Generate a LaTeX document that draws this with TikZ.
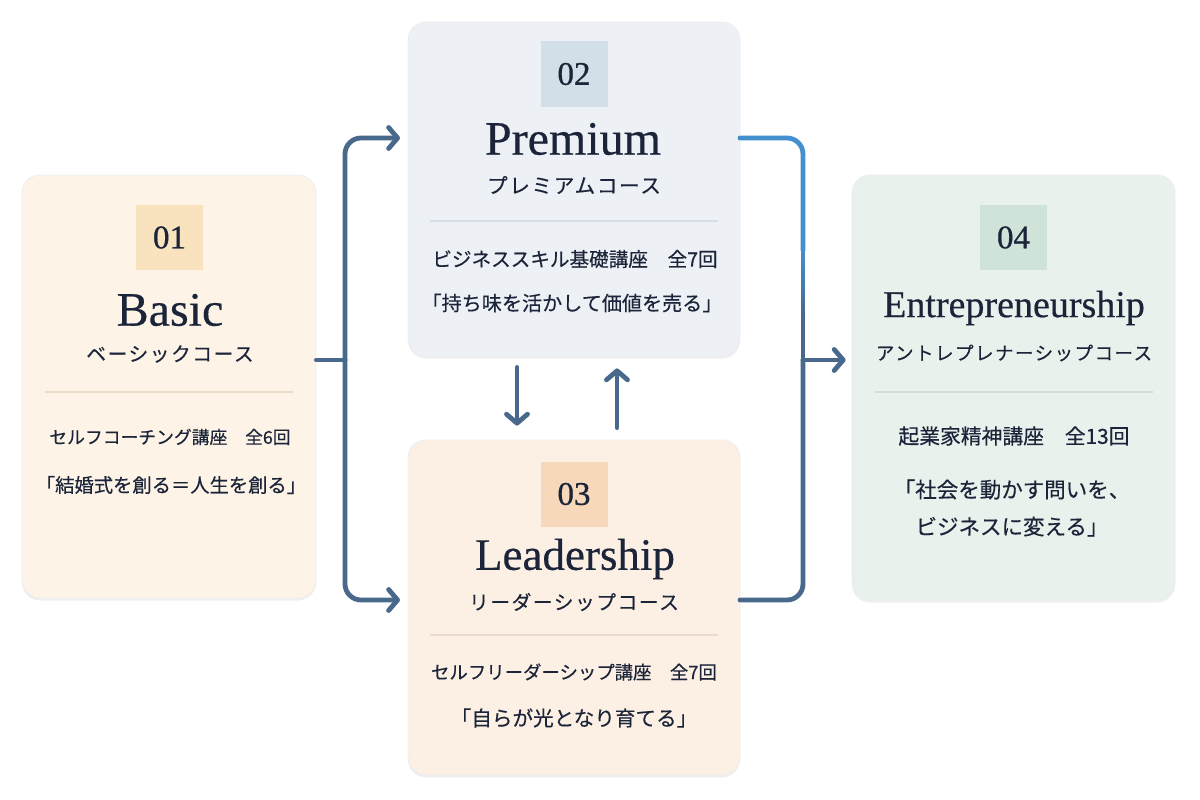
\documentclass[tikz,border=0pt]{standalone}
\usepackage{fontspec}
\setmainfont{Liberation Serif}
\newfontfamily\jp[FakeBold=0.35]{Noto Sans CJK JP}
\newfontfamily\jpsub[LetterSpace=8,FakeBold=0.3]{Noto Sans CJK JP}
\newfontfamily\numfont[FakeBold=0.8]{Liberation Serif}
\newfontfamily\titlefont[FakeBold=0.4]{Liberation Serif}
\usetikzlibrary{arrows.meta,shadows,calc}
\definecolor{ink}{HTML}{1B2438}
\definecolor{navy}{HTML}{48698C}
\definecolor{skyline}{HTML}{4490CF}
\definecolor{basicfill}{HTML}{FDF4E7}
\definecolor{basicbadge}{HTML}{F8E3BE}
\definecolor{basicrule}{HTML}{EBDCC6}
\definecolor{premfill}{HTML}{EDF1F6}
\definecolor{prembadge}{HTML}{D3DFE8}
\definecolor{premrule}{HTML}{D3DEE6}
\definecolor{leadfill}{HTML}{FCF0E5}
\definecolor{leadbadge}{HTML}{F8D8BA}
\definecolor{leadrule}{HTML}{EBDACB}
\definecolor{entfill}{HTML}{E8F1EC}
\definecolor{entbadge}{HTML}{CFE3D9}
\definecolor{entrule}{HTML}{CFE0D8}
\newcommand{\fs}[1]{\fontsize{#1}{#1}\selectfont}
\tikzset{
  card/.style={rounded corners=18pt, draw=black!7, line width=0.8pt,
    drop shadow={opacity=0.12, shadow xshift=0pt, shadow yshift=-2.5pt}},
  badge/.style={inner sep=0pt, minimum width=67pt, minimum height=65pt, text=ink,
    font=\numfont\fs{33}},
  title/.style={text=ink, inner sep=0pt, font=\titlefont\fs{48}},
  sub/.style={text=ink, inner sep=0pt},
  body/.style={text=ink, inner sep=0pt},
  conn/.style={draw=navy, line width=4.8pt, line cap=round, line join=round},
  arr/.style={-{Straight Barb[length=9pt,width=21pt,round]}},
  rulel/.style={line width=1.2pt}
}
\begin{document}
\begin{tikzpicture}[x=1pt,y=-1pt]
\useasboundingbox[fill=white] (0,0) rectangle (1200,800);

% cards
\node[card, fill=basicfill, minimum width=294pt, minimum height=423pt] (basic) at (169,386.5) {};
\node[card, fill=premfill, minimum width=332pt, minimum height=334pt] (prem) at (574,189) {};
\node[card, fill=leadfill, minimum width=332pt, minimum height=335pt] (lead) at (574,607.5) {};
\node[card, fill=entfill, minimum width=323pt, minimum height=425pt] (ent) at (1013.5,387.5) {};

% connectors
\coordinate (jL) at (345,360);
\coordinate (pIn) at (400,138);
\coordinate (lIn) at (400,600);
\coordinate (pOut) at (740,138);
\coordinate (lOut) at (740,600);
\coordinate (jR) at (803,360);

\draw[conn] (basic.east |- jL) -- (jL);
\draw[conn, arr, rounded corners=16pt] (jL) |- (pIn);
\draw[conn, arr, rounded corners=16pt] (jL) |- (lIn);

\draw[conn, rounded corners=16pt] (jR) |- (lOut);
\draw[conn, draw=skyline, rounded corners=16pt] (pOut) -| (803,250);
\foreach \i in {0,...,23}{
  \pgfmathtruncatemacro{\pc}{100-\i*100/23}
  \draw[line width=4.8pt, draw=skyline!\pc!navy] (803,{248+3*\i}) -- (803,{252+3*\i});
}
\draw[conn] (803,318) -- (jR);
\draw[conn, arr, shorten >=6pt] (jR) -- (ent.west |- jR);

\draw[conn, arr] ($(prem.south)+(-57,11)$) -- ($(lead.north)+(-57,-14)$);
\draw[conn, arr] ($(lead.north)+(43,-12)$) -- ($(prem.south)+(43,12)$);

% Basic
\node[badge, fill=basicbadge] (b1) at (169.5,237.5) {01};
\node[title] (b2) at (170,310) {Basic};
\node[sub, font=\jpsub\fs{19.7}] (b3) at (170,354) {ベーシックコース};
\draw[rulel, draw=basicrule] (45,392) -- (293,392);
\node[body, font=\jp\fs{17.8}] (b4) at (170,437) {セルフコーチング講座　全6回};
\node[body, font=\jp\fs{19.3}] (b5) at (171,485) {「結婚式を創る＝人生を創る」};

% Premium
\node[badge, fill=prembadge] (p1) at (574,74) {02};
\node[title] (p2) at (573,139) {Premium};
\node[sub, font=\jpsub\fs{20.6}] (p3) at (574,185) {プレミアムコース};
\draw[rulel, draw=premrule] (430,221) -- (718,221);
\node[body, font=\jp\fs{19.6}] (p4) at (575,259) {ビジネススキル基礎講座　全7回};
\node[body, font=\jp\fs{20.1}] (p5) at (572,303) {「持ち味を活かして価値を売る」};

% Leadership
\node[badge, fill=leadbadge] (l1) at (574,494) {03};
\node[title, font=\titlefont\fs{45}] (l2) at (575,559) {Leadership};
\node[sub, font=\jpsub\fs{19.7}] (l3) at (574,602) {リーダーシップコース};
\draw[rulel, draw=leadrule] (430,635) -- (718,635);
\node[body, font=\jp\fs{18.4}] (l4) at (574,672) {セルフリーダーシップ講座　全7回};
\node[body, font=\jp\fs{20.6}] (l5) at (574,718) {「自らが光となり育てる」};

% Entrepreneurship
\node[badge, fill=entbadge] (e1) at (1013.5,237.5) {04};
\node[title, font=\titlefont\fs{38}] (e2) at (1014,308) {Entrepreneurship};
\node[sub, font=\jpsub\fs{18.5}] (e3) at (1014,353) {アントレプレナーシップコース};
\draw[rulel, draw=entrule] (875,392) -- (1153,392);
\node[body, font=\jp\fs{20.8}] (e4) at (1014,436) {起業家精神講座　全13回};
\node[body, align=center, font=\jp\fontsize{21.5}{37}\selectfont] (e5) at (1012,508) {「社会を動かす問いを、\\ビジネスに変える」};
\end{tikzpicture}
\end{document}
